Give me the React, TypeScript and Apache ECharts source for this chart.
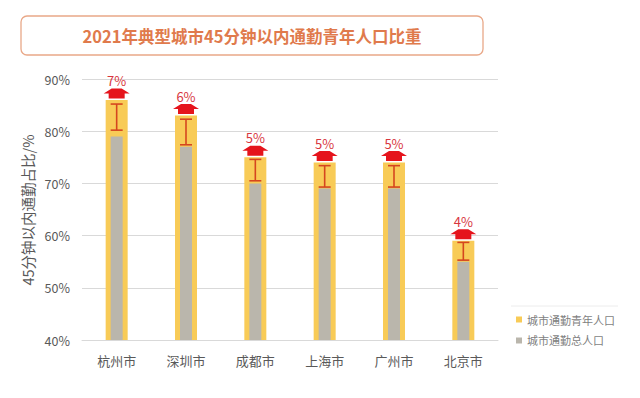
import React, { useEffect, useRef } from "react";
import * as echarts from "echarts";

const cities = ["杭州市", "深圳市", "成都市", "上海市", "广州市", "北京市"];
const youngCommute = [86, 83, 75, 74, 74, 59];
const totalCommute = [79, 77, 70, 69, 69, 55];
const errLow = [80.2, 77.4, 70.5, 69.3, 69.3, 55.3];
const errHigh = [85.2, 82.3, 74.6, 73.4, 73.4, 58.7];
const diffLabels = ["7%", "6%", "5%", "5%", "5%", "4%"];
const yTicks = { min: 40, max: 90, interval: 10 };
const seriesNames = ["城市通勤青年人口", "城市通勤总人口"];
const titleText = "2021年典型城市45分钟以内通勤青年人口比重";
const yAxisName = "45分钟以内通勤占比/%";

const FONT = "'Noto Sans CJK SC', 'Noto Sans', sans-serif";

export default function App() {
  const ref = useRef<HTMLDivElement>(null);
  useEffect(() => {
    if (!ref.current) return;
    const chart = echarts.init(ref.current, undefined, { renderer: "svg" });
    chart.setOption({
      animation: false,
      backgroundColor: "#ffffff",
      textStyle: { fontFamily: FONT },
      grid: { left: 82, right: 142, top: 79, bottom: 58 },
      legend: {
        orient: "vertical",
        left: 511,
        top: 309,
        itemWidth: 6,
        itemHeight: 6,
        itemGap: 10,
        icon: "rect",
        data: seriesNames,
        textStyle: { color: "#7f7f7f", fontSize: 11, fontFamily: FONT },
      },
      graphic: [
        {
          type: "rect",
          shape: { x: 21, y: 16, width: 462, height: 39, r: 6 },
          style: { fill: "#ffffff", stroke: "#E9A888", lineWidth: 1.3 },
        },
        {
          type: "text",
          x: 252,
          y: 36,
          style: {
            text: titleText,
            fill: "#E07A4C",
            fontSize: 16.5,
            fontWeight: "bold",
            fontFamily: FONT,
            textAlign: "center",
            textVerticalAlign: "middle",
          },
        },
        {
          type: "text",
          x: 27,
          y: 210,
          rotation: Math.PI / 2,
          style: {
            text: yAxisName,
            fill: "#595959",
            fontSize: 14.5,
            fontFamily: FONT,
            textAlign: "center",
            textVerticalAlign: "middle",
          },
        },
        {
          type: "line",
          shape: { x1: 511, y1: 306, x2: 618, y2: 306 },
          style: { stroke: "#ececec", lineWidth: 1 },
        },
      ],
      xAxis: [
        {
          type: "category",
          data: cities,
          axisLine: { lineStyle: { color: "#d9d9d9" } },
          axisTick: { show: false },
          axisLabel: { color: "#595959", fontSize: 13, margin: 14, fontFamily: FONT },
        },
        {
          type: "category",
          data: cities,
          position: "bottom",
          show: false,
        },
      ],
      yAxis: {
        type: "value",
        min: yTicks.min,
        max: yTicks.max,
        interval: yTicks.interval,
        axisLine: { show: false },
        axisTick: { show: false },
        splitLine: { lineStyle: { color: "#d9d9d9" } },
        axisLabel: {
          color: "#595959",
          fontSize: 12.5,
          margin: 12,
          formatter: "{value}%",
          fontFamily: FONT,
        },
      },
      series: [
        {
          name: seriesNames[0],
          type: "bar",
          xAxisIndex: 0,
          data: youngCommute,
          barWidth: 22,
          itemStyle: { color: "#F8CB57" },
          z: 2,
        },
        {
          name: seriesNames[1],
          type: "bar",
          xAxisIndex: 1,
          data: totalCommute,
          barWidth: 12,
          itemStyle: { color: "#BAB6AC" },
          z: 3,
        },
        {
          type: "custom",
          z: 5,
          data: cities.map((_, i) => [i, errLow[i], errHigh[i]]),
          renderItem: (params: any, api: any) => {
            const x = api.coord([api.value(0), 0])[0];
            const yl = api.coord([api.value(0), api.value(1)])[1];
            const yh = api.coord([api.value(0), api.value(2)])[1];
            const hw = 6;
            const st = { stroke: "#D5461F", lineWidth: 1.6 };
            return {
              type: "group",
              children: [
                { type: "line", shape: { x1: x, y1: yl, x2: x, y2: yh }, style: st },
                { type: "line", shape: { x1: x - hw, y1: yl, x2: x + hw, y2: yl }, style: st },
                { type: "line", shape: { x1: x - hw, y1: yh, x2: x + hw, y2: yh }, style: st },
              ],
            };
          },
        },
        {
          type: "custom",
          z: 6,
          data: cities.map((_, i) => [i, youngCommute[i]]),
          renderItem: (params: any, api: any) => {
            const p = api.coord([api.value(0), api.value(1)]);
            const cx = p[0];
            const b = p[1] - 1.5;
            const pts = [
              [cx - 5, b - 10],
              [cx + 5, b - 10],
              [cx + 13, b - 5],
              [cx + 8, b - 5],
              [cx + 8, b],
              [cx - 8, b],
              [cx - 8, b - 5],
              [cx - 13, b - 5],
            ];
            return {
              type: "group",
              children: [
                { type: "polygon", shape: { points: pts }, style: { fill: "#E5141C" } },
                {
                  type: "text",
                  x: cx,
                  y: b - 18,
                  style: {
                    text: diffLabels[params.dataIndex],
                    fill: "#D8363E",
                    fontSize: 13,
                    fontFamily: FONT,
                    textAlign: "center",
                    textVerticalAlign: "middle",
                  },
                },
              ],
            };
          },
        },
      ],
    });
    return () => chart.dispose();
  }, []);
  return (
    <div
      ref={ref}
      style={{ position: "fixed", left: 0, top: 0, width: 640, height: 398 }}
    />
  );
}
